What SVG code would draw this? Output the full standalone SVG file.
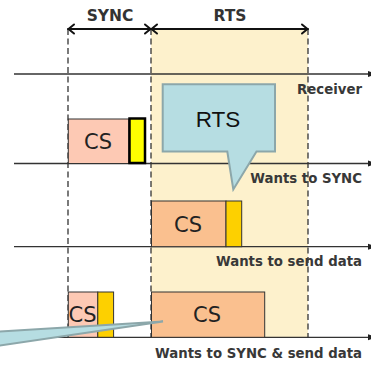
<svg xmlns="http://www.w3.org/2000/svg" width="371" height="367" viewBox="0 0 371 367">
<style>
.tl{stroke:#333;stroke-width:1.3;fill:none}
.dash{stroke:#333;stroke-width:1.3;stroke-dasharray:6,3.5;fill:none}
.arr{stroke:#111;stroke-width:2;fill:none;stroke-linecap:round;stroke-linejoin:round}
.lbl{font-family:"DejaVu Sans",Verdana,sans-serif;font-weight:bold;font-size:13.3px;fill:#383838}
.hdr{font-family:"DejaVu Sans",Verdana,sans-serif;font-weight:bold;font-size:15.5px;fill:#333;text-anchor:middle}
.cs{font-family:"DejaVu Sans",Verdana,sans-serif;font-size:21px;fill:#222;text-anchor:middle}
.csA{fill:#fdc9b4;stroke:#333;stroke-width:1}
.csB{fill:#fac08f;stroke:#333;stroke-width:1}
.yb{fill:#fdd000;stroke:#333;stroke-width:1}
.call{fill:#b6dde2;stroke:#8ca7aa;stroke-width:2;stroke-linejoin:miter}
.head{fill:#222}
</style>
<rect id="rts-region" x="151" y="29" width="157" height="308" fill="#fdf1cc"/>
<g id="connectors">
<line class="dash" x1="68" y1="29" x2="68" y2="337"/>
<line class="dash" x1="151" y1="29" x2="151" y2="337"/>
<line class="dash" x1="308" y1="29" x2="308" y2="337"/>
<line class="tl" x1="14" y1="74" x2="370" y2="74"/>
<polygon class="head" points="368,71 377,74 368,77"/>
<line class="tl" x1="14" y1="163.5" x2="370" y2="163.5"/>
<polygon class="head" points="368,160.5 377,163.5 368,166.5"/>
<line class="tl" x1="14" y1="246.7" x2="370" y2="246.7"/>
<polygon class="head" points="368,243.7 377,246.7 368,249.7"/>
<line class="tl" x1="14" y1="337.3" x2="370" y2="337.3"/>
<polygon class="head" points="368,334.3 377,337.3 368,340.3"/>
<g id="sync-span">
<line class="arr" x1="68" y1="29" x2="151" y2="29"/>
<polyline class="arr" points="74,24.5 68.5,29 74,33.5"/>
<polyline class="arr" points="145,24.5 150.5,29 145,33.5"/>
</g>
<g id="rts-span">
<line class="arr" x1="151" y1="29" x2="308" y2="29"/>
<polyline class="arr" points="157,24.5 151.5,29 157,33.5"/>
<polyline class="arr" points="302,24.5 307.5,29 302,33.5"/>
</g>
</g>
<text class="hdr" x="110" y="21">SYNC</text>
<text class="hdr" x="230" y="21">RTS</text>
<g id="cs-receiver">
<rect class="csA" x="68.3" y="119" width="60.5" height="44.5"/>
<text class="cs" x="98" y="149">CS</text>
<rect x="129.5" y="118.5" width="15.5" height="44.5" fill="#ffff00" stroke="#000" stroke-width="2.5"/>
</g>
<g id="cs-sync">
<rect class="csB" x="151.5" y="201" width="74.5" height="45.7"/>
<text class="cs" x="188" y="231.5">CS</text>
<rect class="yb" x="226" y="201" width="15.7" height="45.7"/>
</g>
<g id="cs-both-small">
<rect class="csA" x="68.3" y="292" width="29.5" height="45.3"/>
<text class="cs" x="82.5" y="322">CS</text>
<rect class="yb" x="97.8" y="292" width="15.8" height="45.3"/>
</g>
<g id="cs-both-large">
<rect class="csB" x="151.5" y="292" width="113.2" height="45.3"/>
<text class="cs" x="207" y="322">CS</text>
</g>
<g id="rts-callout">
<path class="call" d="M162.7,84.3 H275 V151.5 H256.5 L233.3,189.5 L227.3,151.5 H162.7 Z"/>
<text x="218" y="126.7" font-family="'Liberation Sans',Arial,sans-serif" font-size="22.5" fill="#111" text-anchor="middle">RTS</text>
</g>
<g id="callout-tail">
<polygon class="call" points="-20,332.7 163,321.5 -20,348.4"/>
</g>
<g id="labels">
<text class="lbl" x="362" y="94" text-anchor="end">Receiver</text>
<text class="lbl" x="362" y="183" text-anchor="end">Wants to SYNC</text>
<text class="lbl" x="362" y="266" text-anchor="end">Wants to send data</text>
<text class="lbl" x="362" y="358" text-anchor="end">Wants to SYNC &amp; send data</text>
</g>
</svg>
